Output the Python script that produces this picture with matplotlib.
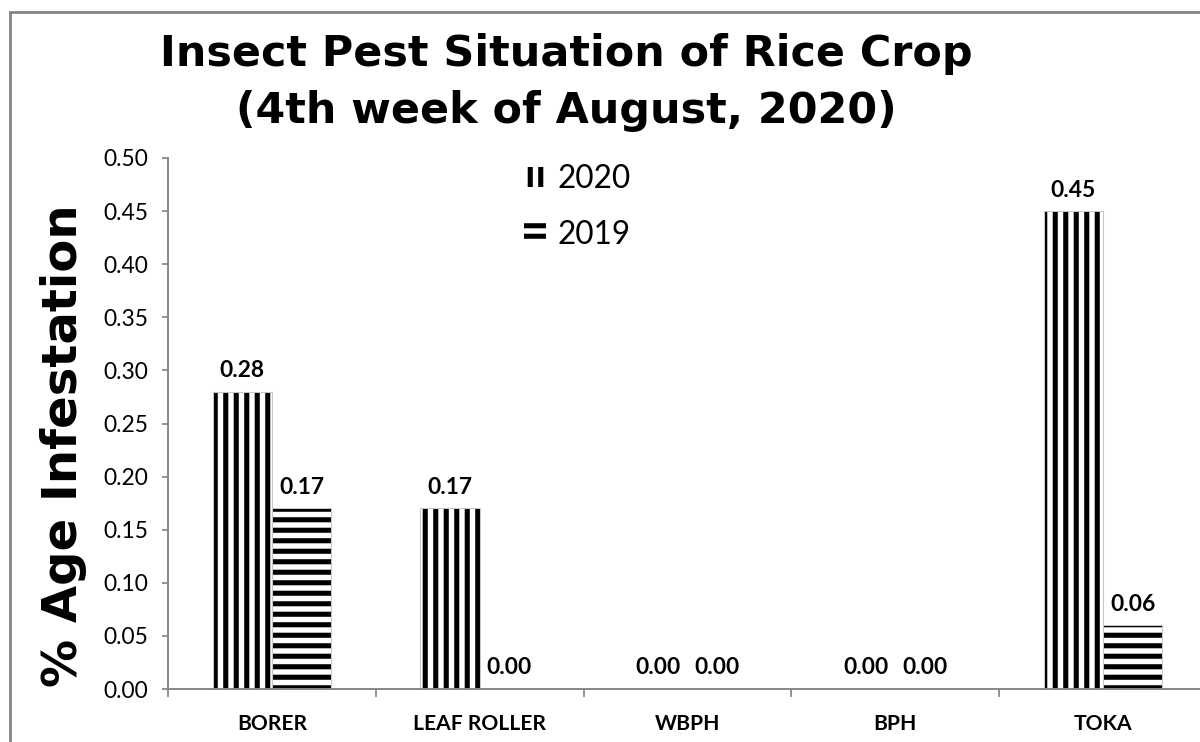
import matplotlib

matplotlib.use("Agg")
import matplotlib.pyplot as plt
from matplotlib.patches import Patch, Rectangle
import numpy as np

# data
categories = ["BORER", "LEAF ROLLER", "WBPH", "BPH", "TOKA"]
vals_2020 = [0.28, 0.17, 0.00, 0.00, 0.45]
vals_2019 = [0.17, 0.00, 0.00, 0.00, 0.06]
series_names = ["2020", "2019"]
yticks = np.arange(0, 0.501, 0.05)

DPI = 126
GRAY = "#868686"
plt.rcParams["hatch.linewidth"] = 2.9

fig = plt.figure(figsize=(1200 / DPI, 742 / DPI), dpi=DPI)
fig.patch.set_facecolor("white")

# outer chart border (runs off the right and bottom edges)
top = 1 - 12 / 742
fig.add_artist(Rectangle((10 / 1200, -0.2), 1.3, top + 0.2, transform=fig.transFigure,
                         fill=False, edgecolor=GRAY, linewidth=1.6))

ax = fig.add_axes([168 / 1200, 1 - 689 / 742, (1207 - 168) / 1200, (689 - 158) / 742])

x = np.arange(len(categories))
w = 0.285
b1 = ax.bar(x - w / 2, vals_2020, w, color="white", edgecolor="black", linewidth=0, hatch="||")
b2 = ax.bar(x + w / 2, vals_2019, w, color="white", edgecolor="black", linewidth=0, hatch="--")
# faint outline round the bars
ax.bar(x - w / 2, vals_2020, w, fill=False, edgecolor="#c8c8c8", linewidth=0.6)
ax.bar(x + w / 2, vals_2019, w, fill=False, edgecolor="#c8c8c8", linewidth=0.6)

for bars, vals in ((b1, vals_2020), (b2, vals_2019)):
    for r, v in zip(bars, vals):
        ax.annotate(f"{v:.2f}", (r.get_x() + r.get_width() / 2, v), xytext=(0, 6),
                    textcoords="offset points", ha="center", va="bottom",
                    fontsize=13, fontweight="bold", family="Lato")

ax.set_xlim(-0.5, len(categories) - 0.5)
ax.set_ylim(0, 0.5)
ax.set_yticks(yticks)
ax.set_yticklabels([f"{t:.2f}" for t in yticks], family="Lato", fontsize=13)
ax.set_xticks(x)
ax.set_xticklabels(categories, family="Lato", fontsize=12, fontweight="bold")
ax.set_xticks(np.arange(-0.5, len(categories)), minor=True)
ax.tick_params(axis="x", which="major", length=0, pad=14)
ax.tick_params(axis="x", which="minor", length=4.5, width=1, color=GRAY)
ax.tick_params(axis="y", length=3.5, width=1, color=GRAY, pad=8)

for s in ("top", "right"):
    ax.spines[s].set_visible(False)
for s in ("left", "bottom"):
    ax.spines[s].set_color(GRAY)
    ax.spines[s].set_linewidth(1.1)

fig.text(0.472, 0.955, "Insect Pest Situation of Rice Crop\n(4th week of August, 2020)",
         ha="center", va="top", fontsize=24.5, fontweight="bold", family="DejaVu Sans",
         linespacing=1.45)
fig.text(0.053, 0.40, "% Age Infestation", rotation=90, ha="center", va="center",
         fontsize=27.5, fontweight="bold", family="DejaVu Sans")

handles = [Patch(facecolor="white", edgecolor="black", linewidth=0, hatch="||"),
           Patch(facecolor="white", edgecolor="black", linewidth=0, hatch="--")]
fig.legend(handles, series_names, loc="upper left", bbox_to_anchor=(496 / 1200, 1 - 136 / 742),
           frameon=False, prop={"family": "Lato", "size": 18}, handlelength=0.7,
           handleheight=0.6, handletextpad=0.35, labelspacing=0.82)

fig.savefig("out.png", dpi=DPI, facecolor="white")
